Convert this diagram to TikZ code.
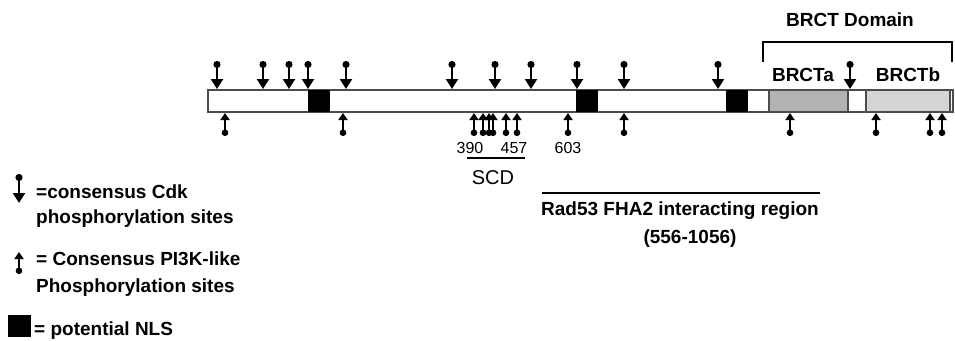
\documentclass[tikz,border=0pt]{standalone}
\usepackage{fontspec}
\setsansfont{Liberation Sans}
\usetikzlibrary{arrows.meta}

\begin{document}
\begin{tikzpicture}[x=1pt,y=-1pt,font=\sffamily\bfseries\fontsize{19}{22}\selectfont,
 cdk/.style={line width=2.2pt,{Circle[length=7pt]}-{Triangle[length=10pt,width=12pt]}},
 pik/.style={line width=2.2pt,{Circle[length=6.5pt]}-{Triangle[length=7pt,width=9pt]}},
 nls/.style={fill=black},
 lbl/.style={inner sep=0pt,anchor=base west},
 num/.style={inner sep=0pt,anchor=base,font=\sffamily\fontsize{16}{18}\selectfont}]
\useasboundingbox (0,0) rectangle (955,340);
% protein bar
\draw[line width=1.3pt,draw=black!70,fill=white] (208,90) rectangle (953,112);
\fill[black!30] (769,90) rectangle (848,112);
\fill[black!17] (866,90) rectangle (950,112);
\draw[line width=1.3pt,draw=black!70] (769,90) rectangle (848,112) (866,90) rectangle (950,112);
\foreach \a in {308,576,726}{\fill[nls] (\a,90) rectangle (\a+22,112);}
% sites
\foreach \x in {217,263,289,308,346,452,495,531,577,624,718,850}{\draw[cdk] (\x,61)--(\x,89);}
\foreach \x in {225,343,474,483,489,493,506,517,568,624,790,876,930,942}{\draw[pik] (\x,136)--(\x,113);}
% BRCT domain
\draw[line width=1.6pt] (763,62)--(763,42)--(952,42)--(952,62);
\node[inner sep=0pt,anchor=base] (brct) at (850,26) {BRCT Domain};
\node[inner sep=0pt,anchor=base] (brcta) at (803,81) {BRCTa};
\node[inner sep=0pt,anchor=base] (brctb) at (908,81) {BRCTb};
% SCD and FHA2 region
\node[num] (n390) at (470,153) {390};
\node[num] (n457) at (514,153) {457};
\node[num] (n603) at (568,153) {603};
\draw[line width=1.5pt] (467,158)--(525,158);
\node[inner sep=0pt,anchor=base,font=\sffamily\fontsize{20}{22}\selectfont] (scd) at (493,184) {SCD};
\draw[line width=2pt] (542,193)--(820,193);
\node[inner sep=0pt,anchor=base] (fha) at (680,215) {Rad53 FHA2 interacting region};
\node[inner sep=0pt,anchor=base] (rng) at (690,243) {(556-1056)};
% legend
\draw[cdk] (19,174)--(19,203);
\node[lbl] (cdk1) at (36,198) {=consensus Cdk};
\node[lbl] (cdk2) at (36,223) {phosphorylation sites};
\draw[pik] (19,274)--(19,252);
\node[lbl] (pik1) at (36,265) {= Consensus PI3K-like};
\node[lbl] (pik2) at (36,292) {Phosphorylation sites};
\fill[nls] (8,315) rectangle (31,337);
\node[lbl] (nlskey) at (34,335) {= potential NLS};
\end{tikzpicture}
\end{document}
